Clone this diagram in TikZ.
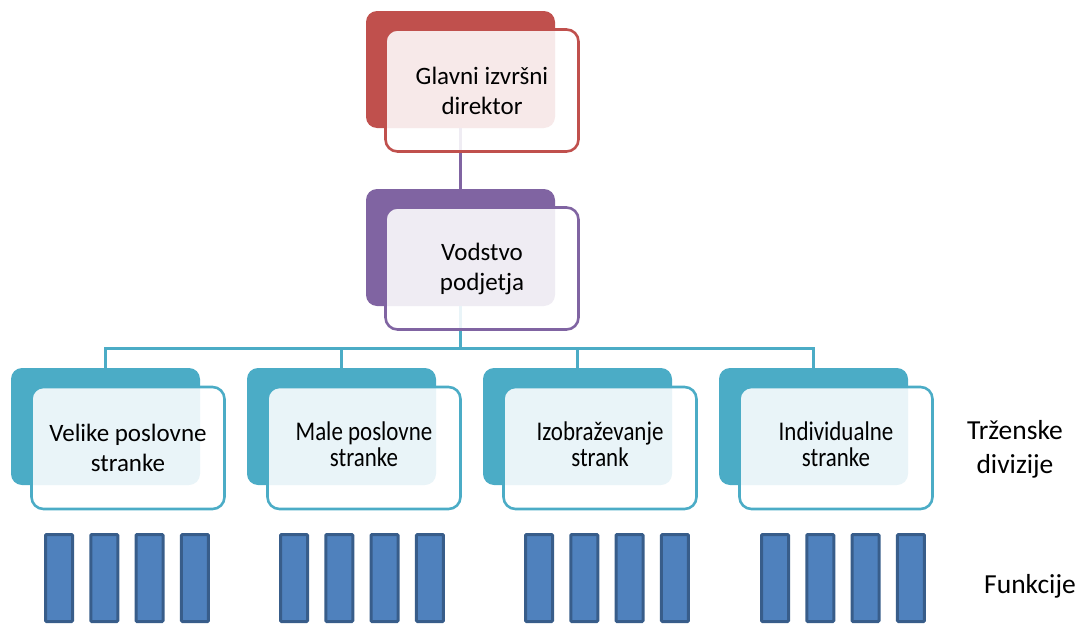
\documentclass[tikz,border=0pt]{standalone}
\usepackage{fontspec}
\setmainfont{Carlito}
\usepackage{graphicx}
\definecolor{ceored}{HTML}{C0504D}
\definecolor{leadpurple}{HTML}{8064A2}
\definecolor{divteal}{HTML}{4BACC6}
\definecolor{funcfill}{HTML}{4F81BD}
\definecolor{funcedge}{HTML}{385D8A}
% two-line label, set tall and narrow
\newcommand\condlabel[1]{\scalebox{0.85}[1]{\fontsize{27}{24}\selectfont\begin{tabular}{@{}c@{}}#1\end{tabular}}}
\begin{document}
\begin{tikzpicture}[x=1pt,y=-1pt,
  backbox/.style={rectangle, rounded corners=11pt, inner sep=0pt, outer sep=0pt,
    minimum width=189pt, minimum height=117pt, anchor=north west},
  frontbox/.style={rectangle, rounded corners=12pt, draw=#1, line width=2.6pt,
    fill=white, fill opacity=0.88, text opacity=1, inner sep=0pt, outer sep=0pt,
    minimum width=193pt, minimum height=122pt, anchor=north west, align=center,
    text=black, font=\fontsize{25}{30}\selectfont},
  link/.style={draw=#1, line width=3pt},
  funcbar/.style={rectangle, draw=funcedge, fill=funcfill, line width=3pt,
    rounded corners=1pt, minimum width=27pt, minimum height=87pt, inner sep=0pt},
  sidelabel/.style={align=center, text=black, font=\fontsize{27.5}{34}\selectfont, inner sep=0pt}]
\useasboundingbox (0,0) rectangle (1080,624);

% back tiles
\node[backbox, fill=ceored] (ceoB) at (366,11) {};
\node[backbox, fill=leadpurple] (leadB) at (366,189) {};
\foreach \n/\x in {1/11,2/247,3/483,4/719}
  \node[backbox, fill=divteal] (divB\n) at (\x,368) {};

% connectors (run behind the translucent front cards)
\coordinate (bus) at (460.5,348);
\draw[link=leadpurple] (ceoB.south) -- (leadB.north);
\draw[link=divteal] (leadB.south) -- (leadB.south |- bus);
\draw[link=divteal] (divB1.north) -- (divB1.north |- bus) -| (divB4.north);
\draw[link=divteal] (divB2.north) -- (divB2.north |- bus);
\draw[link=divteal] (divB3.north) -- (divB3.north |- bus);

% front cards
\node[frontbox=ceored] (ceo) at (385.5,29.5) {Glavni izvršni\\direktor};
\node[frontbox=leadpurple] (lead) at (385.5,207.5) {Vodstvo\\podjetja};
\node[frontbox=divteal] (div1) at (31.5,387) {Velike poslovne\\stranke};
\node[frontbox=divteal] (div2) at (267.5,387) {\condlabel{Male poslovne\\stranke}};
\node[frontbox=divteal] (div3) at (503.5,387) {\condlabel{Izobraževanje\\strank}};
\node[frontbox=divteal] (div4) at (739.5,387) {\condlabel{Individualne\\stranke}};

% function bars
\foreach \g/\s in {1/44,2/279,3/524,4/760}
  \foreach \i in {0,...,3}
    \node[funcbar] (f\g\i) at ({\s+15+45.3*\i},578) {};

% row labels
\node[sidelabel] (divlabel) at (1015,449) {Trženske\\divizije};
\node[sidelabel, anchor=base] (funclabel) at (1030,593) {Funkcije};
\end{tikzpicture}
\end{document}
